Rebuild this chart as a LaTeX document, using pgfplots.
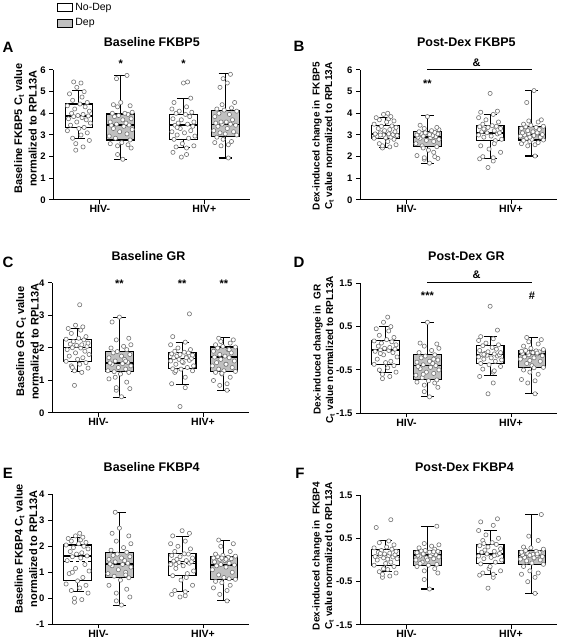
\documentclass[border=0pt]{standalone}
\usepackage{fontspec}
\setmainfont{Liberation Sans}
\usepackage{pgfplots}
\pgfplotsset{compat=1.18}
\usepackage{pgfplotstable}
\usepgfplotslibrary{statistics}
\definecolor{boxgray}{RGB}{192,192,192}
\definecolor{ptgray}{RGB}{115,115,115}

\tikzset{
  sig/.style={font=\fontsize{11}{12}\selectfont\bfseries},
  blab/.style={font=\fontsize{11}{14.5}\selectfont\bfseries},
  dlab/.style={font=\fontsize{10}{12.5}\selectfont\bfseries},
}
\pgfplotsset{
  panel/.style={
    scale only axis, width=197pt, height=130pt,
    axis lines=left, axis line style={-, line width=1pt, black},
    xmin=0.555, xmax=2.44,
    xtick={1,2}, xticklabels={HIV-,HIV+},
    tick align=outside, major tick length=4pt,
    tick style={black, line width=1pt},
    xticklabel style={font=\fontsize{10.5}{12}\selectfont\bfseries, inner sep=1.5pt},
    yticklabel style={font=\fontsize{9.5}{11}\selectfont\bfseries},
    clip=false,
    title style={font=\fontsize{12.5}{14}\selectfont\bfseries, anchor=center},
    ylabel style={align=center, anchor=center},
    boxplot/draw direction=y,
    boxplot/box extend=0.265,
    boxplot/whisker extend=0.125,
    boxplot/every median/.style={line width=1.6pt},
    legend image code/.code={\draw[#1, line width=0.9pt] (0pt,-4pt) rectangle (15pt,4pt);},
  },
  pts/.style={only marks, mark=*, mark size=2.1pt, mark options={draw=ptgray, fill=white, line width=0.6pt}, forget plot},
  nod/.style={draw=black, fill=white, line width=1.1pt, solid, forget plot},
  dep/.style={draw=black, fill=boxgray, line width=1.1pt, solid, forget plot},
}

\newcommand{\bx}[7]{\addplot[#1, boxplot prepared={draw position=#2, lower whisker=#3, lower quartile=#4, median=#5, upper quartile=#6, upper whisker=#7}] coordinates {};}
\newcommand{\scatters}[1]{%
  \addplot[pts] table[x expr=0.8+\thisrow{j1}, y=g1] {#1};
  \addplot[pts] table[x expr=1.2+\thisrow{j2}, y=g2] {#1};
  \addplot[pts] table[x expr=1.8-\thisrow{j2}, y=g3] {#1};
  \addplot[pts] table[x expr=2.2-\thisrow{j1}, y=g4] {#1};
}

\pgfplotstableread{
j1 j2 g1 g2 g3 g4
-0.03 0.02 2.3 1.88 1.98 1.94
0.04 -0.03 2.45 2.1 2.1 2.5
-0.03 0.10 2.6 2.4 2.2 2.55
0.10 -0.03 2.75 2.5 2.4 2.65
-0.06 0.07 2.85 2.55 2.45 2.7
0.02 -0.10 3.0 2.6 2.5 2.8
0.08 0.01 3.1 2.65 2.6 2.9
-0.11 0.09 3.2 2.77 2.8 3.0
0.00 -0.05 3.3 2.85 2.85 3.05
0.05 -0.11 3.35 2.95 2.95 3.1
-0.08 0.06 3.45 3.05 3.0 3.15
0.11 -0.01 3.55 3.15 3.1 3.2
-0.02 0.11 3.6 3.25 3.15 3.3
0.07 -0.07 3.7 3.3 3.2 3.4
-0.10 0.03 3.75 3.4 3.3 3.45
0.03 -0.09 3.8 3.45 3.4 3.5
-0.05 0.08 3.85 3.46 3.45 3.5
0.09 -0.04 3.88 3.5 3.5 3.55
-0.01 0.05 3.9 3.55 3.55 3.6
0.04 -0.10 3.95 3.6 3.6 3.6
-0.07 0.02 4.0 3.7 3.7 3.7
0.10 0.10 4.1 3.75 3.75 3.85
-0.04 -0.06 4.2 3.85 3.85 3.95
0.06 -0.02 4.3 3.9 3.95 4.0
-0.11 0.07 4.35 3.95 4.0 4.1
0.01 -0.08 4.43 4.0 4.05 4.15
0.08 0.04 4.5 4.0 4.1 4.2
-0.06 0.11 4.6 4.05 4.2 4.25
0.03 -0.03 4.75 4.3 4.3 4.4
-0.09 0.09 4.9 4.35 4.5 4.5
0.05 -0.07 5.0 4.4 4.7 5.2
-0.02 0.00 5.2 4.5 5.4 5.4
0.02 -0.04 5.4 5.6 5.45 5.6
-0.05 0.06 5.45 5.75 3.35 5.8
}\tA

\pgfplotstableread{
j1 j2 g1 g2 g3 g4
-0.03 0.02 2.4 1.7 1.5 2.03
0.04 -0.03 2.45 1.88 1.8 2.5
-0.03 0.10 2.5 1.92 1.9 2.55
0.10 -0.03 2.55 1.95 1.95 2.6
-0.06 0.07 2.6 2.0 2.0 2.65
0.02 -0.10 2.7 2.05 2.2 2.7
0.08 0.01 2.8 2.3 2.35 2.75
-0.11 0.09 2.85 2.46 2.5 2.77
0.00 -0.05 2.88 2.5 2.74 2.8
0.05 -0.11 2.9 2.6 2.8 2.85
-0.08 0.06 2.95 2.7 2.9 2.9
0.11 -0.01 2.98 2.75 2.95 2.95
-0.02 0.11 3.0 2.8 3.0 2.98
0.07 -0.07 3.02 2.85 3.05 3.0
-0.10 0.03 3.05 2.88 3.1 3.02
0.03 -0.09 3.05 2.9 3.1 3.05
-0.05 0.08 3.1 2.92 3.15 3.05
0.09 -0.04 3.15 2.95 3.2 3.1
-0.01 0.05 3.2 2.98 3.25 3.15
0.04 -0.10 3.25 3.0 3.3 3.2
-0.07 0.02 3.3 3.02 3.35 3.25
0.10 0.10 3.35 3.05 3.38 3.3
-0.04 -0.06 3.4 3.08 3.4 3.35
0.06 -0.02 3.42 3.1 3.43 3.38
-0.11 0.07 3.5 3.12 3.5 3.4
0.01 -0.08 3.6 3.15 3.6 3.45
0.08 0.04 3.65 3.2 3.7 3.5
-0.06 0.11 3.7 3.25 3.8 3.6
0.03 -0.03 3.75 3.3 3.95 3.65
-0.09 0.09 3.8 3.35 4.05 3.7
0.05 -0.07 3.85 3.45 4.1 4.5
-0.02 0.00 3.95 3.85 4.92 5.05
0.02 -0.04 4.0 2.4 2.6 2.9
-0.05 0.06 3.0 2.2 3.28 3.1
}\tB

\pgfplotstableread{
j1 j2 g1 g2 g3 g4
-0.03 0.02 0.85 0.5 0.2 0.7
0.04 -0.03 1.25 0.7 0.78 0.85
-0.03 0.10 1.3 0.75 0.9 0.9
0.10 -0.03 1.38 0.78 1.1 1.0
-0.06 0.07 1.45 0.95 1.25 1.1
0.02 -0.10 1.5 1.05 1.3 1.2
0.08 0.01 1.55 1.2 1.35 1.25
-0.11 0.09 1.59 1.25 1.36 1.28
0.00 -0.05 1.65 1.27 1.4 1.3
0.05 -0.11 1.7 1.3 1.45 1.35
-0.08 0.06 1.75 1.35 1.5 1.4
0.11 -0.01 1.8 1.4 1.55 1.45
-0.02 0.11 1.85 1.45 1.6 1.5
0.07 -0.07 1.9 1.5 1.62 1.55
-0.10 0.03 1.95 1.52 1.65 1.6
0.03 -0.09 2.0 1.54 1.68 1.65
-0.05 0.08 2.01 1.56 1.7 1.7
0.09 -0.04 2.05 1.6 1.72 1.72
-0.01 0.05 2.08 1.65 1.75 1.75
0.04 -0.10 2.1 1.7 1.78 1.8
-0.07 0.02 2.12 1.75 1.8 1.85
0.10 0.10 2.15 1.8 1.82 1.9
-0.04 -0.06 2.2 1.85 1.85 1.95
0.06 -0.02 2.25 1.89 1.87 2.0
-0.11 0.07 2.27 1.95 1.9 2.03
0.01 -0.08 2.3 2.0 1.95 2.05
0.08 0.04 2.35 2.05 2.0 2.1
-0.06 0.11 2.45 2.1 2.1 2.15
0.03 -0.03 2.55 2.25 2.18 2.2
-0.09 0.09 2.6 2.3 2.35 2.25
0.05 -0.07 2.65 2.8 3.05 2.3
-0.02 0.00 2.7 2.95 1.58 1.5
0.02 -0.04 3.33 1.1 1.7 1.22
-0.05 0.06 1.4 1.6 1.3 1.95
}\tC

\pgfplotstableread{
j1 j2 g1 g2 g3 g4
-0.03 0.02 -0.7 -1.12 -1.05 -1.05
0.04 -0.03 -0.65 -1.0 -0.8 -0.8
-0.03 0.10 -0.6 -0.9 -0.65 -0.75
0.10 -0.03 -0.55 -0.85 -0.55 -0.72
-0.06 0.07 -0.5 -0.8 -0.48 -0.6
0.02 -0.10 -0.45 -0.78 -0.42 -0.55
0.08 0.01 -0.4 -0.75 -0.38 -0.5
-0.11 0.09 -0.37 -0.73 -0.35 -0.44
0.00 -0.05 -0.33 -0.68 -0.3 -0.4
0.05 -0.11 -0.3 -0.62 -0.27 -0.35
-0.08 0.06 -0.25 -0.58 -0.25 -0.3
0.11 -0.01 -0.2 -0.55 -0.22 -0.25
-0.02 0.11 -0.15 -0.5 -0.2 -0.22
0.07 -0.07 -0.1 -0.47 -0.18 -0.2
-0.10 0.03 -0.07 -0.44 -0.16 -0.17
0.03 -0.09 -0.05 -0.42 -0.15 -0.15
-0.05 0.08 -0.04 -0.4 -0.14 -0.13
0.09 -0.04 -0.02 -0.38 -0.13 -0.12
-0.01 0.05 0.0 -0.35 -0.12 -0.1
0.04 -0.10 0.02 -0.32 -0.1 -0.09
-0.07 0.02 0.05 -0.3 -0.08 -0.08
0.10 0.10 0.08 -0.27 -0.05 -0.07
-0.04 -0.06 0.12 -0.22 -0.02 -0.06
0.06 -0.02 0.15 -0.18 0.02 -0.05
-0.11 0.07 0.17 -0.15 0.06 -0.03
0.01 -0.08 0.2 -0.1 0.08 0.0
0.08 0.04 0.25 -0.05 0.12 0.05
-0.06 0.11 0.3 0.0 0.18 0.1
0.03 -0.03 0.4 0.05 0.22 0.15
-0.09 0.09 0.45 0.1 0.27 0.2
0.05 -0.07 0.5 0.12 0.42 0.25
-0.02 0.00 0.6 0.6 0.97 -0.45
0.02 -0.04 0.72 -0.6 -0.52 -0.28
-0.05 0.06 -0.12 -0.25 -0.14 -0.11
}\tD

\pgfplotstableread{
j1 j2 g1 g2 g3 g4
-0.03 0.02 -0.15 -0.26 0.05 -0.1
0.04 -0.03 -0.05 -0.1 0.1 0.15
-0.03 0.10 0.0 0.05 0.15 0.3
0.10 -0.03 0.2 0.2 0.25 0.4
-0.06 0.07 0.3 0.35 0.3 0.5
0.02 -0.10 0.4 0.5 0.5 0.6
0.08 0.01 0.5 0.7 0.7 0.65
-0.11 0.09 0.55 0.79 0.87 0.73
0.00 -0.05 0.67 0.85 0.95 0.8
0.05 -0.11 0.8 0.95 1.05 0.9
-0.08 0.06 0.95 1.0 1.15 1.0
0.11 -0.01 1.05 1.1 1.25 1.1
-0.02 0.11 1.15 1.2 1.3 1.2
0.07 -0.07 1.3 1.25 1.35 1.25
-0.10 0.03 1.45 1.3 1.38 1.28
0.03 -0.09 1.55 1.32 1.41 1.3
-0.05 0.08 1.6 1.35 1.43 1.35
0.09 -0.04 1.63 1.4 1.45 1.4
-0.01 0.05 1.7 1.45 1.5 1.45
0.04 -0.10 1.75 1.5 1.55 1.5
-0.07 0.02 1.8 1.55 1.6 1.52
0.10 0.10 1.9 1.6 1.65 1.55
-0.04 -0.06 1.95 1.65 1.7 1.58
0.06 -0.02 2.0 1.7 1.71 1.6
-0.11 0.07 2.05 1.77 1.8 1.62
0.01 -0.08 2.1 1.85 1.9 1.65
0.08 0.04 2.15 1.95 2.0 1.7
-0.06 0.11 2.2 2.1 2.1 1.8
0.03 -0.03 2.25 2.2 2.2 2.0
-0.09 0.09 2.3 2.4 2.4 2.1
0.05 -0.07 2.35 2.5 2.5 2.24
-0.02 0.00 2.4 2.7 2.6 1.5
0.02 -0.04 2.5 3.31 0.8 1.55
-0.05 0.06 1.0 0.9 1.3 0.75
}\tE

\pgfplotstableread{
j1 j2 g1 g2 g3 g4
-0.03 0.02 -0.4 -0.67 -0.65 -0.77
0.04 -0.03 -0.37 -0.45 -0.4 -0.5
-0.03 0.10 -0.33 -0.3 -0.35 -0.4
0.10 -0.03 -0.3 -0.25 -0.33 -0.33
-0.06 0.07 -0.27 -0.2 -0.3 -0.3
0.02 -0.10 -0.22 -0.15 -0.25 -0.25
0.08 0.01 -0.15 -0.12 -0.2 -0.15
-0.11 0.09 -0.12 -0.1 -0.09 -0.1
0.00 -0.05 -0.08 -0.05 -0.05 -0.07
0.05 -0.11 -0.05 0.0 0.0 -0.05
-0.08 0.06 0.0 0.03 0.03 0.0
0.11 -0.01 0.03 0.05 0.06 0.02
-0.02 0.11 0.05 0.07 0.09 0.04
0.07 -0.07 0.07 0.09 0.12 0.06
-0.10 0.03 0.08 0.1 0.14 0.08
0.03 -0.09 0.1 0.11 0.15 0.1
-0.05 0.08 0.1 0.12 0.18 0.1
0.09 -0.04 0.12 0.13 0.2 0.12
-0.01 0.05 0.14 0.15 0.23 0.13
0.04 -0.10 0.16 0.17 0.26 0.15
-0.07 0.02 0.18 0.18 0.3 0.17
0.10 0.10 0.2 0.2 0.33 0.18
-0.04 -0.06 0.22 0.21 0.36 0.2
0.06 -0.02 0.25 0.22 0.4 0.22
-0.11 0.07 0.28 0.25 0.45 0.25
0.01 -0.08 0.3 0.28 0.5 0.28
0.08 0.04 0.35 0.32 0.58 0.3
-0.06 0.11 0.4 0.35 0.68 0.45
0.03 -0.03 0.44 0.38 0.8 0.55
-0.09 0.09 0.75 0.78 0.88 1.05
0.05 -0.07 0.93 -0.08 0.95 -0.02
-0.02 0.00 -0.2 0.0 -0.15 0.05
0.02 -0.04 0.02 0.14 0.1 0.11
-0.05 0.06 0.15 0.19 0.38 0.14
}\tF

\begin{document}
\begin{tikzpicture}
\path[use as bounding box] (0pt,0pt) rectangle (560pt,640pt);

% ---------------- A ----------------
\begin{axis}[panel, at={(53.3pt,440pt)}, anchor=south west,
  ymin=0, ymax=6, ytick={0,1,2,3,4,5,6}, yticklabels={0,1,2,3,4,5,6},
  title={Baseline FKBP5}, title style={at={(axis description cs:0.5,1.17)}},
  ylabel={Baseline FKBP5 C\textsubscript{t} value\\normalized to RPL13A},
  ylabel style={blab, at={(axis description cs:-0.141,0.55)}},
  legend style={at={(axis description cs:0.005,1.548)}, anchor=north west, draw=none, fill=none,
    font=\fontsize{10.5}{12}\selectfont, row sep=3pt, cells={anchor=west}},
]
\addlegendimage{draw=black, fill=white}
\addlegendentry{No-Dep}
\addlegendimage{draw=black, fill=boxgray}
\addlegendentry{Dep}
\bx{nod}{0.8}{2.83}{3.35}{3.88}{4.43}{5.05}
\bx{dep}{1.2}{1.88}{2.77}{3.46}{3.97}{5.75}
\bx{nod}{1.8}{2.43}{2.8}{3.45}{3.95}{4.69}
\bx{dep}{2.2}{1.94}{2.92}{3.49}{4.15}{5.82}
\scatters{\tA}
\node[sig] at (axis cs:1.2,6.28) {*};
\node[sig] at (axis cs:1.8,6.28) {*};
\end{axis}

% ---------------- B ----------------
\begin{axis}[panel, at={(360pt,440pt)}, anchor=south west,
  ymin=0, ymax=6, ytick={0,1,2,3,4,5,6}, yticklabels={0,1,2,3,4,5,6},
  title={Post-Dex FKBP5}, title style={at={(axis description cs:0.54,1.167)}},
  ylabel={Dex-induced change in\ \ FKBP5\\C\textsubscript{t} value normalized to RPL13A},
  ylabel style={dlab, at={(axis description cs:-0.188,0.49)}},
]
\bx{nod}{0.8}{2.43}{2.85}{3.05}{3.42}{3.82}
\bx{dep}{1.2}{1.69}{2.46}{2.92}{3.15}{3.9}
\bx{nod}{1.8}{1.93}{2.74}{3.1}{3.43}{3.93}
\bx{dep}{2.2}{2.03}{2.77}{3.02}{3.38}{5.05}
\scatters{\tB}
\addplot[black, line width=1pt, forget plot] coordinates {(1.2,6) (2.2,6)};
\node[sig] at (axis cs:1.67,6.32) {\&};
\node[sig] at (axis cs:1.2,5.35) {**};
\end{axis}

% ---------------- C ----------------
\begin{axis}[panel, at={(52pt,227pt)}, anchor=south west,
  ymin=0, ymax=4, ytick={0,1,2,3,4}, yticklabels={0,1,2,3,4},
  title={Baseline GR}, title style={at={(axis description cs:0.49,1.16)}},
  ylabel={Baseline GR C\textsubscript{t} value\\normalized to RPL13A},
  ylabel style={blab, at={(axis description cs:-0.124,0.55)}},
]
\bx{nod}{0.8}{1.29}{1.59}{2.01}{2.27}{2.61}
\bx{dep}{1.2}{0.48}{1.27}{1.54}{1.89}{2.95}
\bx{nod}{1.8}{0.88}{1.36}{1.68}{1.87}{2.18}
\bx{dep}{2.2}{0.7}{1.28}{1.72}{2.03}{2.33}
\scatters{\tC}
\node[sig] at (axis cs:1.2,3.98) {**};
\node[sig] at (axis cs:1.8,3.98) {**};
\node[sig] at (axis cs:2.2,3.98) {**};
\end{axis}

% ---------------- D ----------------
\begin{axis}[panel, at={(360pt,226.7pt)}, anchor=south west,
  ymin=-1.5, ymax=1.5, ytick={-1.5,-0.5,0.5,1.5}, yticklabels={-1.5,-0.5,0.5,1.5},
  title={Post-Dex GR}, title style={at={(axis description cs:0.54,1.166)}},
  ylabel={Dex-induced change in\ \ GR\\C\textsubscript{t} value normalized to RPL13A},
  ylabel style={dlab, at={(axis description cs:-0.183,0.49)}},
]
\bx{nod}{0.8}{-0.55}{-0.37}{-0.04}{0.17}{0.5}
\bx{dep}{1.2}{-1.12}{-0.73}{-0.4}{-0.15}{0.6}
\bx{nod}{1.8}{-0.63}{-0.35}{-0.14}{0.06}{0.27}
\bx{dep}{2.2}{-1.05}{-0.44}{-0.13}{-0.05}{0.25}
\scatters{\tD}
\addplot[black, line width=1pt, forget plot] coordinates {(1.2,1.53) (2.2,1.53)};
\node[sig] at (axis cs:1.67,1.69) {\&};
\node[sig] at (axis cs:1.2,1.21) {***};
\node[sig] at (axis cs:2.2,1.21) {\#};
\end{axis}

% ---------------- E ----------------
\begin{axis}[panel, at={(52pt,15.7pt)}, anchor=south west,
  ymin=-1, ymax=4, ytick={-1,0,1,2,3,4}, yticklabels={-1,0,1,2,3,4},
  title={Baseline FKBP4}, title style={at={(axis description cs:0.506,1.16)}},
  ylabel={Baseline FKBP4 C\textsubscript{t} value\\normalized to RPL13A},
  ylabel style={blab, at={(axis description cs:-0.132,0.58)}},
]
\bx{nod}{0.8}{0.26}{0.67}{1.63}{2.05}{2.33}
\bx{dep}{1.2}{-0.26}{0.79}{1.32}{1.77}{3.31}
\bx{nod}{1.8}{0.26}{0.87}{1.41}{1.71}{2.36}
\bx{dep}{2.2}{-0.1}{0.73}{1.28}{1.6}{2.24}
\addplot[black, dashed, line width=1.2pt, forget plot] coordinates {(0.6675,1.41) (0.9325,1.41)};
\addplot[black, dashed, line width=1.2pt, forget plot] coordinates {(1.6675,1.33) (1.9325,1.33)};
\scatters{\tE}
\end{axis}

% ---------------- F ----------------
\begin{axis}[panel, at={(360pt,15pt)}, anchor=south west,
  ymin=-1.5, ymax=1.5, ytick={-1.5,-0.5,0.5,1.5}, yticklabels={-1.5,-0.5,0.5,1.5},
  title={Post-Dex FKBP4}, title style={at={(axis description cs:0.53,1.167)}},
  ylabel={Dex-induced change in\ \ FKBP4\\C\textsubscript{t} value normalized to RPL13A},
  ylabel style={dlab, at={(axis description cs:-0.188,0.53)}},
]
\bx{nod}{0.8}{-0.27}{-0.12}{0.1}{0.25}{0.44}
\bx{dep}{1.2}{-0.67}{-0.12}{0.11}{0.22}{0.78}
\bx{nod}{1.8}{-0.33}{-0.09}{0.14}{0.36}{0.68}
\bx{dep}{2.2}{-0.77}{-0.1}{0.1}{0.22}{1.05}
\scatters{\tF}
\end{axis}

\node[font=\fontsize{15}{16}\selectfont\bfseries] at (8pt,593pt) {A};
\node[font=\fontsize{15}{16}\selectfont\bfseries] at (299pt,594pt) {B};
\node[font=\fontsize{15}{16}\selectfont\bfseries] at (8pt,378pt) {C};
\node[font=\fontsize{15}{16}\selectfont\bfseries] at (299pt,378pt) {D};
\node[font=\fontsize{15}{16}\selectfont\bfseries] at (8pt,167pt) {E};
\node[font=\fontsize{15}{16}\selectfont\bfseries] at (300pt,167pt) {F};
\end{tikzpicture}
\end{document}
